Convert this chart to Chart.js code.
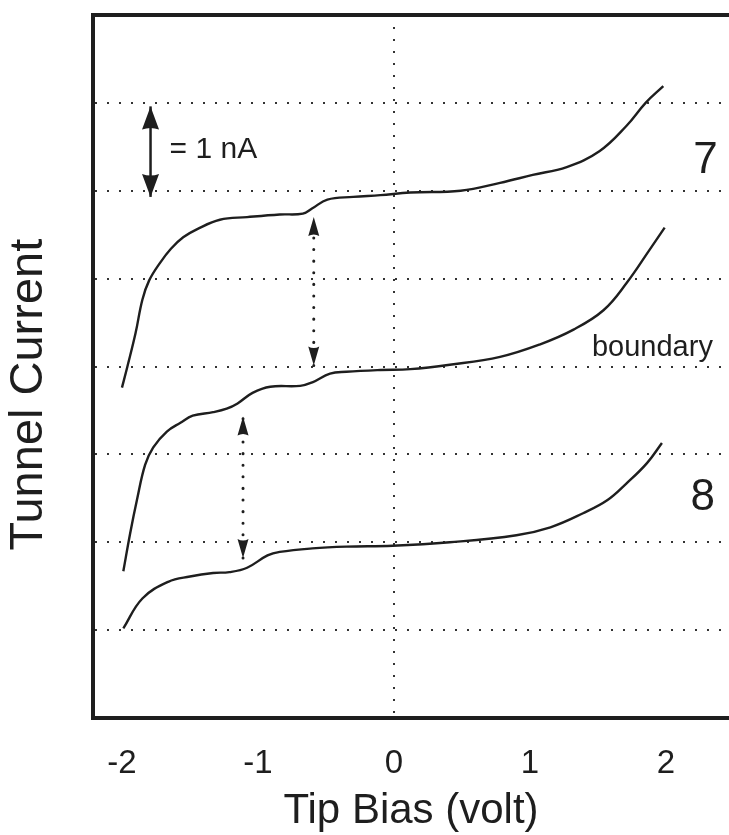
<!DOCTYPE html>
<html><head><meta charset="utf-8">
<script src="https://cdn.jsdelivr.net/npm/chart.js@4.4.1/dist/chart.umd.min.js"></script>
<style>html,body{margin:0;padding:0;background:#fff}#wrap{width:729px;height:835px;position:relative}</style>
</head><body><div id="wrap"><canvas id="c"></canvas></div>
<script>
// ---- data (tip bias in volt, tunnel current in nA, curves offset vertically) ----
const xTickValues = [-2, -1, 0, 1, 2];
const yGridValues = [1, 2, 3, 4, 5, 6, 7];

const curve7Bias    = [-2.00,-1.96,-1.90,-1.85,-1.80,-1.72,-1.64,-1.55,-1.45,-1.28,-1.08,-0.84,-0.67,-0.60,-0.49,-0.30,-0.10,0.12,0.49,0.78,1.02,1.27,1.51,1.71,1.85,1.98];
const curve7Current = [3.76,4.00,4.38,4.76,4.98,5.18,5.34,5.47,5.56,5.67,5.70,5.73,5.74,5.80,5.90,5.93,5.95,5.98,6.00,6.09,6.18,6.27,6.45,6.74,7.00,7.19];

const boundaryBias    = [-1.99,-1.94,-1.89,-1.83,-1.77,-1.67,-1.57,-1.48,-1.33,-1.23,-1.15,-1.04,-0.91,-0.69,-0.60,-0.47,-0.35,-0.10,0.12,0.41,0.78,1.07,1.32,1.54,1.71,1.88,1.99];
const boundaryCurrent = [1.67,2.10,2.48,2.88,3.08,3.26,3.36,3.44,3.48,3.52,3.58,3.70,3.77,3.78,3.82,3.92,3.94,3.96,3.97,4.02,4.11,4.25,4.42,4.64,4.95,5.33,5.58];

const curve8Bias    = [-1.99,-1.85,-1.66,-1.50,-1.33,-1.21,-1.08,-0.93,-0.84,-0.60,-0.35,-0.01,0.41,0.90,1.15,1.39,1.57,1.71,1.86,1.97];
const curve8Current = [1.02,1.36,1.55,1.61,1.65,1.66,1.71,1.85,1.89,1.93,1.95,1.96,2.00,2.08,2.17,2.33,2.48,2.67,2.90,3.13];

// double arrows: [bias], [lower tip, upper tip]
const scaleBarBias = [-1.79];  const scaleBarCurrent = [5.93, 6.96];
const arrow1Bias   = [-0.59];  const arrow1Current   = [4.01, 5.70];
const arrow2Bias   = [-1.11];  const arrow2Current   = [1.82, 3.43];

const labelTexts   = ['= 1 nA', '7', 'boundary', '8'];
const labelBias    = [-1.65, 2.29, 1.90, 2.27];
const labelCurrent = [6.47, 6.34, 4.21, 2.51];

const xTitle = 'Tip Bias (volt)';
const yTitle = 'Tunnel Current';

// ---- helpers ----
const zip = (xs, ys) => xs.map((v, i) => ({x: v, y: ys[i]}));
const INK = '#1e1e1e';
const FONT = '"Liberation Sans", Arial, Helvetica, sans-serif';
const X_MIN = -2.213, X_MAX = 2.463, Y_MIN = 0, Y_MAX = 8;

const curveStyle = {showLine: true, borderColor: INK, borderWidth: 2.4, pointRadius: 0, tension: 0.4, fill: false};
const dotStyle = {showLine: true, borderColor: INK, borderWidth: 3, borderDash: [0.1, 11.5], borderCapStyle: 'round', pointRadius: 0, fill: false};

const annotations = {
  id: 'annotations',
  afterDatasetsDraw(chart) {
    const {ctx, scales: {x, y}} = chart;
    ctx.save();
    ctx.fillStyle = INK;
    const head = (px, py, up, len, hw) => {
      const by = up ? py + len : py - len;
      ctx.beginPath();
      ctx.moveTo(px, py);
      ctx.lineTo(px - hw, by);
      ctx.quadraticCurveTo(px, by + (up ? -3 : 3), px + hw, by);
      ctx.closePath();
      ctx.fill();
    };
    const pairs = [[scaleBarBias, scaleBarCurrent, 23, 8.5], [arrow1Bias, arrow1Current, 19, 5.5], [arrow2Bias, arrow2Current, 19, 5.5]];
    pairs.forEach(([b, c, len, hw]) => {
      const px = x.getPixelForValue(b[0]);
      head(px, y.getPixelForValue(c[1]), true, len, hw);
      head(px, y.getPixelForValue(c[0]), false, len, hw);
    });
    ctx.textBaseline = 'middle';
    const fonts = ['30px ' + FONT, '44px ' + FONT, '29px ' + FONT, '44px ' + FONT];
    const aligns = ['left', 'center', 'center', 'center'];
    labelTexts.forEach((t, i) => {
      ctx.font = fonts[i];
      ctx.textAlign = aligns[i];
      ctx.fillText(t, x.getPixelForValue(labelBias[i]), y.getPixelForValue(labelCurrent[i]));
    });
    // y axis title (rotated), placed beside the left axis
    ctx.translate(y.left + 29, y.getPixelForValue(3.68));
    ctx.rotate(-Math.PI / 2);
    ctx.font = '47px ' + FONT;
    ctx.textAlign = 'center';
    ctx.fillText(yTitle, 0, 0);
    ctx.restore();
  }
};

new Chart(document.getElementById('c'), {
  type: 'scatter',
  data: {
    datasets: [
      {label: '7', data: zip(curve7Bias, curve7Current), ...curveStyle},
      {label: 'boundary', data: zip(boundaryBias, boundaryCurrent), ...curveStyle},
      {label: '8', data: zip(curve8Bias, curve8Current), ...curveStyle},
      {label: 'scale', data: zip([scaleBarBias[0], scaleBarBias[0]], scaleBarCurrent), showLine: true, borderColor: INK, borderWidth: 2.5, pointRadius: 0},
      {label: 'a1', data: zip([arrow1Bias[0], arrow1Bias[0]], arrow1Current), ...dotStyle},
      {label: 'a2', data: zip([arrow2Bias[0], arrow2Bias[0]], arrow2Current), ...dotStyle}
    ]
  },
  options: {
    responsive: true,
    maintainAspectRatio: false,
    animation: false,
    layout: {padding: {top: 15, left: 0, right: 0, bottom: 0}},
    plugins: {legend: {display: false}, tooltip: {enabled: false}},
    scales: {
      x: {
        type: 'linear', position: 'bottom', min: X_MIN, max: X_MAX,
        afterBuildTicks: s => { s.ticks = xTickValues.map(v => ({value: v})); },
        afterFit: s => { s.height = 117; },
        grid: {color: c => (c.tick && c.tick.value === 0) ? '#333' : 'rgba(0,0,0,0)', lineWidth: 2, drawTicks: false},
        border: {display: true, width: 4, color: INK, dash: [2, 10]},
        ticks: {color: INK, font: {family: FONT, size: 33}, padding: 26, maxRotation: 0},
        title: {display: true, text: xTitle, color: INK, font: {family: FONT, size: 42}, padding: {top: 0, bottom: -2}}
      },
      x2: {
        type: 'linear', position: 'top', min: X_MIN, max: X_MAX,
        afterFit: s => { s.height = 0; },
        grid: {display: false}, ticks: {display: false},
        border: {display: true, width: 4, color: INK}
      },
      y: {
        type: 'linear', position: 'left', min: Y_MIN, max: Y_MAX,
        afterBuildTicks: s => { s.ticks = yGridValues.map(v => ({value: v})); },
        afterFit: s => { s.width = 93; },
        grid: {color: '#333', lineWidth: 2, drawTicks: false},
        border: {display: true, width: 4, color: INK, dash: [2, 10]},
        ticks: {display: false}
      }
    }
  },
  plugins: [annotations]
});
</script>
</body></html>
